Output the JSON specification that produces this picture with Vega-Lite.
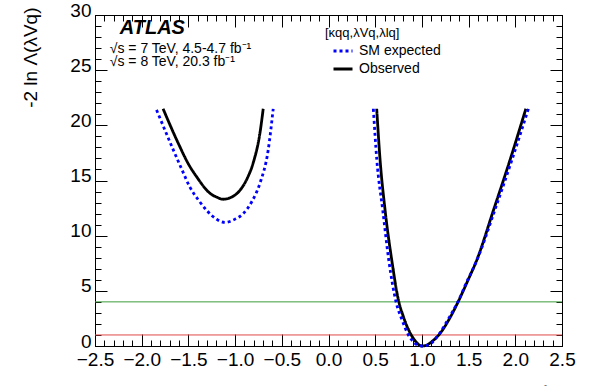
{
  "$schema": "https://vega.github.io/schema/vega-lite/v6.json",
  "width": 467,
  "height": 331,
  "autosize": {"type": "none"},
  "padding": {"left": 95, "top": 15, "right": 30, "bottom": 40},
  "background": "white",
  "config": {
    "font": "Liberation Sans",
    "view": {"stroke": "black", "strokeWidth": 1},
    "axis": {"domain": false, "grid": false, "tickColor": "black", "tickWidth": 1, "labelColor": "black", "titleColor": "black", "labelFont": "Liberation Sans", "titleFont": "Liberation Sans"}
  },
  "datasets": {
    "curves": [
      {"series": "Observed", "well": "R", "x": 0.516, "y": 21.5},
      {"series": "Observed", "well": "R", "x": 0.552, "y": 16.9},
      {"series": "Observed", "well": "R", "x": 0.606, "y": 12.3},
      {"series": "Observed", "well": "R", "x": 0.677, "y": 7.8},
      {"series": "Observed", "well": "R", "x": 0.748, "y": 4.2},
      {"series": "Observed", "well": "R", "x": 0.8, "y": 2.7},
      {"series": "Observed", "well": "R", "x": 0.873, "y": 1.2},
      {"series": "Observed", "well": "R", "x": 0.93, "y": 0.45},
      {"series": "Observed", "well": "R", "x": 0.97, "y": 0.1},
      {"series": "Observed", "well": "R", "x": 1.0, "y": 0},
      {"series": "Observed", "well": "R", "x": 1.05, "y": 0.07},
      {"series": "Observed", "well": "R", "x": 1.1, "y": 0.35},
      {"series": "Observed", "well": "R", "x": 1.195, "y": 1.15},
      {"series": "Observed", "well": "R", "x": 1.3, "y": 2.55},
      {"series": "Observed", "well": "R", "x": 1.399, "y": 4.2},
      {"series": "Observed", "well": "R", "x": 1.49, "y": 5.9},
      {"series": "Observed", "well": "R", "x": 1.588, "y": 7.8},
      {"series": "Observed", "well": "R", "x": 1.766, "y": 12.3},
      {"series": "Observed", "well": "R", "x": 1.945, "y": 16.9},
      {"series": "Observed", "well": "R", "x": 2.113, "y": 21.5},
      {"series": "SM expected", "well": "R", "x": 0.48, "y": 21.5},
      {"series": "SM expected", "well": "R", "x": 0.517, "y": 16.9},
      {"series": "SM expected", "well": "R", "x": 0.581, "y": 12.3},
      {"series": "SM expected", "well": "R", "x": 0.645, "y": 7.8},
      {"series": "SM expected", "well": "R", "x": 0.723, "y": 4.0},
      {"series": "SM expected", "well": "R", "x": 0.79, "y": 2.3},
      {"series": "SM expected", "well": "R", "x": 0.855, "y": 1.0},
      {"series": "SM expected", "well": "R", "x": 0.92, "y": 0.3},
      {"series": "SM expected", "well": "R", "x": 0.96, "y": 0.07},
      {"series": "SM expected", "well": "R", "x": 1.0, "y": 0},
      {"series": "SM expected", "well": "R", "x": 1.05, "y": 0.05},
      {"series": "SM expected", "well": "R", "x": 1.1, "y": 0.25},
      {"series": "SM expected", "well": "R", "x": 1.177, "y": 1.0},
      {"series": "SM expected", "well": "R", "x": 1.28, "y": 2.4},
      {"series": "SM expected", "well": "R", "x": 1.385, "y": 4.0},
      {"series": "SM expected", "well": "R", "x": 1.48, "y": 5.8},
      {"series": "SM expected", "well": "R", "x": 1.59, "y": 7.8},
      {"series": "SM expected", "well": "R", "x": 1.78, "y": 12.3},
      {"series": "SM expected", "well": "R", "x": 1.965, "y": 16.9},
      {"series": "SM expected", "well": "R", "x": 2.14, "y": 21.5},
      {"series": "Observed", "well": "L", "x": -1.771, "y": 21.5},
      {"series": "Observed", "well": "L", "x": -1.61, "y": 18.4},
      {"series": "Observed", "well": "L", "x": -1.5, "y": 16.5},
      {"series": "Observed", "well": "L", "x": -1.413, "y": 15.35},
      {"series": "Observed", "well": "L", "x": -1.27, "y": 13.85},
      {"series": "Observed", "well": "L", "x": -1.2, "y": 13.5},
      {"series": "Observed", "well": "L", "x": -1.127, "y": 13.3},
      {"series": "Observed", "well": "L", "x": -1.05, "y": 13.45},
      {"series": "Observed", "well": "L", "x": -0.949, "y": 14.1},
      {"series": "Observed", "well": "L", "x": -0.87, "y": 15.2},
      {"series": "Observed", "well": "L", "x": -0.806, "y": 16.6},
      {"series": "Observed", "well": "L", "x": -0.734, "y": 19.3},
      {"series": "Observed", "well": "L", "x": -0.699, "y": 21.5},
      {"series": "SM expected", "well": "L", "x": -1.841, "y": 21.4},
      {"series": "SM expected", "well": "L", "x": -1.663, "y": 17.8},
      {"series": "SM expected", "well": "L", "x": -1.57, "y": 16.0},
      {"series": "SM expected", "well": "L", "x": -1.484, "y": 14.4},
      {"series": "SM expected", "well": "L", "x": -1.39, "y": 13.2},
      {"series": "SM expected", "well": "L", "x": -1.305, "y": 12.3},
      {"series": "SM expected", "well": "L", "x": -1.2, "y": 11.5},
      {"series": "SM expected", "well": "L", "x": -1.109, "y": 11.2},
      {"series": "SM expected", "well": "L", "x": -1.0, "y": 11.5},
      {"series": "SM expected", "well": "L", "x": -0.913, "y": 12.0},
      {"series": "SM expected", "well": "L", "x": -0.82, "y": 13.1},
      {"series": "SM expected", "well": "L", "x": -0.734, "y": 14.75},
      {"series": "SM expected", "well": "L", "x": -0.645, "y": 17.8},
      {"series": "SM expected", "well": "L", "x": -0.592, "y": 21.5}
    ]
  },
  "resolve": {"axis": {"x": "independent", "y": "independent"}},
  "layer": [
    {
      "data": {"values": [{}]},
      "mark": {"type": "rule", "color": "#3c9c3c", "strokeWidth": 1},
      "encoding": {
        "x": {"datum": -2.5, "type": "quantitative", "scale": {"domain": [-2.5, 2.5], "nice": false, "zero": false}, "axis": null},
        "x2": {"datum": 2.5},
        "y": {"datum": 4, "type": "quantitative", "scale": {"domain": [0, 30], "nice": false, "zero": false}, "axis": null}
      }
    },
    {
      "data": {"values": [{}]},
      "mark": {"type": "rule", "color": "#e04848", "strokeWidth": 1},
      "encoding": {
        "x": {"datum": -2.5, "type": "quantitative", "axis": null},
        "x2": {"datum": 2.5},
        "y": {"datum": 1, "type": "quantitative", "axis": null}
      }
    },
    {
      "data": {"name": "curves"},
      "mark": {"type": "line", "opacity": 0},
      "encoding": {
        "x": {"field": "x", "type": "quantitative",
          "axis": {"orient": "bottom", "values": [-2.5,-2.4,-2.3,-2.2,-2.1,-2.0,-1.9,-1.8,-1.7,-1.6,-1.5,-1.4,-1.3,-1.2,-1.1,-1.0,-0.9,-0.8,-0.7,-0.6,-0.5,-0.4,-0.3,-0.2,-0.1,0,0.1,0.2,0.3,0.4,0.5,0.6,0.7,0.8,0.9,1.0,1.1,1.2,1.3,1.4,1.5,1.6,1.7,1.8,1.9,2.0,2.1,2.2,2.3,2.4,2.5], "labels": false, "tickSize": -6, "title": null}},
        "y": {"field": "y", "type": "quantitative",
          "axis": {"orient": "left", "values": [0,1,2,3,4,5,6,7,8,9,10,11,12,13,14,15,16,17,18,19,20,21,22,23,24,25,26,27,28,29,30], "labels": false, "tickSize": -6, "title": null}},
        "detail": {"field": "well"}
      }
    },
    {
      "data": {"name": "curves"},
      "mark": {"type": "line", "opacity": 0},
      "encoding": {
        "x": {"field": "x", "type": "quantitative",
          "axis": {"orient": "top", "values": [-2.5,-2.4,-2.3,-2.2,-2.1,-2.0,-1.9,-1.8,-1.7,-1.6,-1.5,-1.4,-1.3,-1.2,-1.1,-1.0,-0.9,-0.8,-0.7,-0.6,-0.5,-0.4,-0.3,-0.2,-0.1,0,0.1,0.2,0.3,0.4,0.5,0.6,0.7,0.8,0.9,1.0,1.1,1.2,1.3,1.4,1.5,1.6,1.7,1.8,1.9,2.0,2.1,2.2,2.3,2.4,2.5], "labels": false, "tickSize": -6, "title": null}},
        "y": {"field": "y", "type": "quantitative",
          "axis": {"orient": "right", "values": [0,1,2,3,4,5,6,7,8,9,10,11,12,13,14,15,16,17,18,19,20,21,22,23,24,25,26,27,28,29,30], "labels": false, "tickSize": -6, "title": null}},
        "detail": {"field": "well"}
      }
    },
    {
      "data": {"name": "curves"},
      "mark": {"type": "line", "opacity": 0},
      "encoding": {
        "x": {"field": "x", "type": "quantitative",
          "axis": {"orient": "top", "values": [-2.5,-2,-1.5,-1,-0.5,0,0.5,1,1.5,2,2.5], "labels": false, "tickSize": -12, "title": null}},
        "y": {"field": "y", "type": "quantitative",
          "axis": {"orient": "right", "values": [0,5,10,15,20,25,30], "labels": false, "tickSize": -12, "title": null}},
        "detail": {"field": "well"}
      }
    },
    {
      "data": {"name": "curves"},
      "mark": {"type": "line", "strokeWidth": 2.8, "interpolate": "monotone"},
      "encoding": {
        "x": {"field": "x", "type": "quantitative",
          "axis": {"orient": "bottom", "values": [-2.5,-2,-1.5,-1,-0.5,0,0.5,1,1.5,2,2.5], "tickSize": -12, "labelPadding": 16, "labelFontSize": 19, "labelFlush": false, "labelOverlap": false,
            "title": "λ̂Vq", "titleFontSize": 18, "titleFontWeight": "normal", "titleAnchor": "end", "titleAlign": "right", "titleBaseline": "top", "titleX": 472, "titleY": 38}},
        "y": {"field": "y", "type": "quantitative",
          "axis": {"orient": "left", "values": [0,5,10,15,20,25,30], "tickSize": -12, "labelPadding": 16, "labelFontSize": 19, "labelOffset": -5,
            "title": "-2 ln Λ(λVq)", "titleFontSize": 19, "titleFontWeight": "normal", "titleAngle": -90, "titleAlign": "right", "titleBaseline": "middle", "titleX": -65, "titleY": -8}},
        "detail": {"field": "well"},
        "color": {"field": "series", "type": "nominal", "scale": {"domain": ["SM expected", "Observed"], "range": ["#0000ff", "#000000"]},
          "legend": {"orient": "none", "legendX": 230, "legendY": 12, "title": "[κqq,λVq,λlq]", "titleFontSize": 13, "titleFontWeight": "normal", "titleColor": "black", "titlePadding": 0, "labelFontSize": 14, "labelColor": "black", "symbolType": "stroke", "symbolSize": 361, "symbolStrokeWidth": 3, "symbolOffset": 7, "rowPadding": 0, "labelOffset": 5}},
        "strokeDash": {"field": "series", "type": "nominal", "scale": {"domain": ["SM expected", "Observed"], "range": [[3, 3], [1, 0]]},
          "legend": {"orient": "none", "legendX": 230, "legendY": 12, "title": "[κqq,λVq,λlq]", "titleFontSize": 13, "titleFontWeight": "normal", "titleColor": "black", "titlePadding": 0, "labelFontSize": 14, "labelColor": "black", "symbolType": "stroke", "symbolSize": 361, "symbolStrokeWidth": 3, "symbolOffset": 7, "rowPadding": 0, "labelOffset": 5}}
      }
    },
    {
      "data": {"values": [{}]},
      "mark": {"type": "text", "text": "ATLAS", "font": "Liberation Sans", "fontSize": 20, "fontWeight": "bold", "fontStyle": "italic", "align": "left", "baseline": "alphabetic", "color": "black"},
      "encoding": {"x": {"datum": -2.235, "type": "quantitative", "axis": null}, "y": {"datum": 28.3, "type": "quantitative", "axis": null}}
    },
    {
      "data": {"values": [{}]},
      "mark": {"type": "text", "text": "√s = 7 TeV, 4.5-4.7 fb⁻¹", "font": "Liberation Sans", "fontSize": 14, "align": "left", "baseline": "alphabetic", "color": "black"},
      "encoding": {"x": {"datum": -2.342, "type": "quantitative", "axis": null}, "y": {"datum": 26.6, "type": "quantitative", "axis": null}}
    },
    {
      "data": {"values": [{}]},
      "mark": {"type": "text", "text": "√s = 8 TeV, 20.3 fb⁻¹", "font": "Liberation Sans", "fontSize": 14, "align": "left", "baseline": "alphabetic", "color": "black"},
      "encoding": {"x": {"datum": -2.342, "type": "quantitative", "axis": null}, "y": {"datum": 25.42, "type": "quantitative", "axis": null}}
    }
  ]
}
